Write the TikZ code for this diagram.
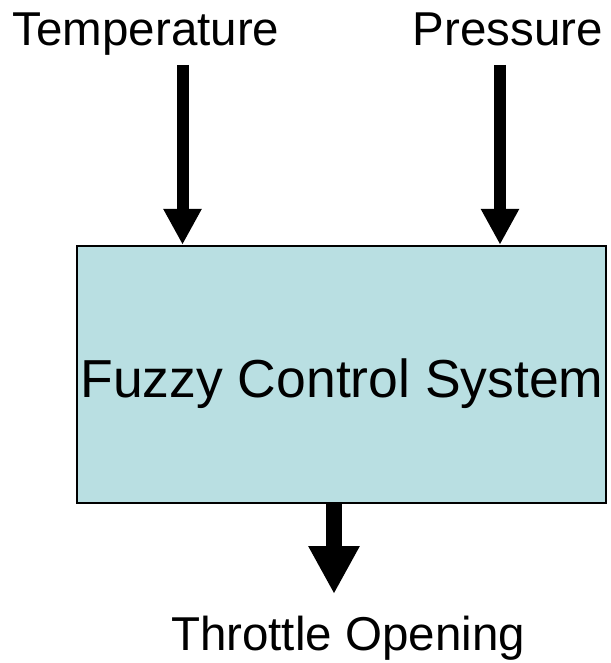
\documentclass[tikz,border=0pt]{standalone}
\usepackage{fontspec}
\setmainfont{Liberation Sans}
\usetikzlibrary{arrows.meta}
\definecolor{boxfill}{RGB}{185,223,226}
\tikzset{
  x=1pt, y=-1pt,
  label/.style={anchor=base, inner sep=0pt, font=\fontsize{47.5}{52}\selectfont},
  sysbox/.style={draw=black, line width=2.5pt, fill=boxfill, inner sep=0pt,
                 minimum width=529pt, minimum height=257pt},
  inarrow/.style={line width=12pt, -{Triangle[length=36pt,width=36pt]}},
  outarrow/.style={line width=16pt, -{Triangle[length=48pt,width=48pt]}}
}
\begin{document}
\begin{tikzpicture}
  \useasboundingbox (0,0) rectangle (610,663);
  % input and output labels
  \node[label] (temp) at (146,46) {Temperature};
  \node[label] (pres) at (508,46) {Pressure};
  \node[label] (thr) at (348,650) {Throttle Opening};
  % the controller block
  \node[sysbox] (fcs) at (341.5,374.5) {};
  \node[anchor=base, inner sep=0pt, font=\fontsize{53.5}{58}\selectfont] (fcslabel) at (342,397) {Fuzzy Control System};
  % arrow start points
  \coordinate (tin) at (182.5,65);
  \coordinate (pin) at (500,65);
  \coordinate (oin) at (334,503);
  \coordinate (oend) at (334,594);
  \draw[inarrow] (tin) -- (tin |- fcs.north);
  \draw[inarrow] (pin) -- (pin |- fcs.north);
  \draw[outarrow] (oin |- fcs.south) -- (oend);
\end{tikzpicture}
\end{document}
